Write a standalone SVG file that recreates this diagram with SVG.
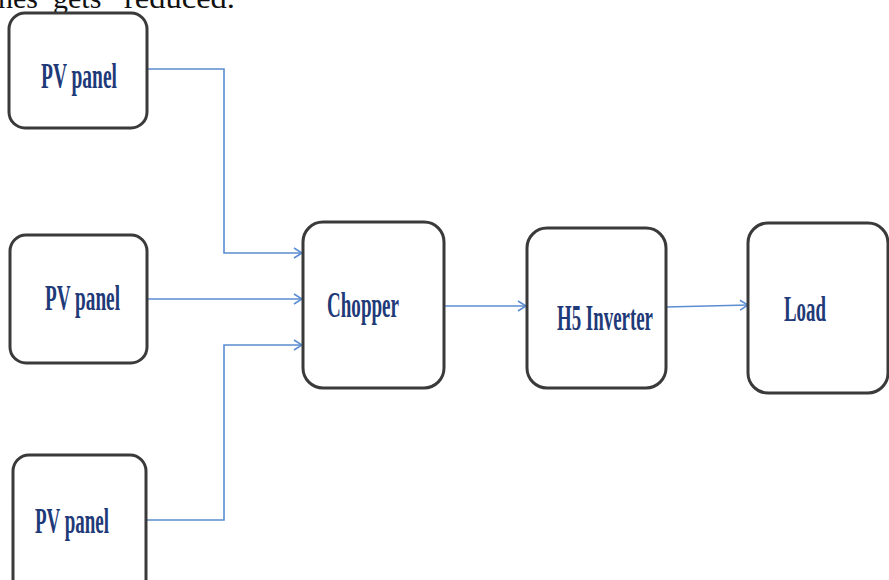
<svg xmlns="http://www.w3.org/2000/svg" width="889" height="580" viewBox="0 0 889 580">
<style>
.box{fill:#fff;stroke:#3a3a3a;stroke-width:3}
.lbl{font-family:"Liberation Serif","Times New Roman",serif;font-size:36px;fill:#1f3a78;font-weight:bold}
.doc{font-family:"Liberation Serif","Times New Roman",serif;font-size:30px;fill:#111}
.con{fill:none;stroke:#5b8dd0;stroke-width:1.6}
</style>
<defs>
<marker id="arr" viewBox="0 0 10 12" refX="9" refY="6" markerWidth="10" markerHeight="12" markerUnits="userSpaceOnUse" orient="auto">
<path d="M1,1 L9,6 L1,11" fill="none" stroke="#5b8dd0" stroke-width="1.6"/>
</marker>
</defs>
<rect width="889" height="580" fill="#fff"/>
<text class="doc" y="8"><tspan x="-2">nes</tspan><tspan x="53">gets</tspan><tspan x="124" textLength="111" lengthAdjust="spacingAndGlyphs">reduced.</tspan></text>
<g id="connectors">
<polyline class="con" points="147,69 224,69 224,253 302,253" marker-end="url(#arr)"/>
<line class="con" x1="147" y1="299" x2="302" y2="299" marker-end="url(#arr)"/>
<polyline class="con" points="147,520 224,520 224,345 302,345" marker-end="url(#arr)"/>
<line class="con" x1="444" y1="306" x2="526" y2="306" marker-end="url(#arr)"/>
<line class="con" x1="666" y1="307" x2="748" y2="305" marker-end="url(#arr)"/>
</g>
<g id="pv1">
<rect class="box" x="9" y="13" width="138" height="115" rx="16"/>
<text class="lbl" x="41" y="88" textLength="76" lengthAdjust="spacingAndGlyphs">PV panel</text>
</g>
<g id="pv2">
<rect class="box" x="10" y="235" width="137" height="128" rx="16"/>
<text class="lbl" x="45" y="310" textLength="75" lengthAdjust="spacingAndGlyphs">PV panel</text>
</g>
<g id="pv3">
<rect class="box" x="13" y="455" width="133" height="140" rx="16"/>
<text class="lbl" x="35" y="533" textLength="74" lengthAdjust="spacingAndGlyphs">PV panel</text>
</g>
<g id="chopper">
<rect class="box" x="303" y="222" width="141" height="166" rx="20"/>
<text class="lbl" x="327" y="317" textLength="72" lengthAdjust="spacingAndGlyphs">Chopper</text>
</g>
<g id="h5">
<rect class="box" x="527" y="228" width="139" height="160" rx="20"/>
<text class="lbl" x="557" y="330" textLength="96" lengthAdjust="spacingAndGlyphs">H5 Inverter</text>
</g>
<g id="load">
<rect class="box" x="748" y="223" width="140" height="170" rx="20"/>
<text class="lbl" x="784" y="321" textLength="42" lengthAdjust="spacingAndGlyphs">Load</text>
</g>
</svg>
